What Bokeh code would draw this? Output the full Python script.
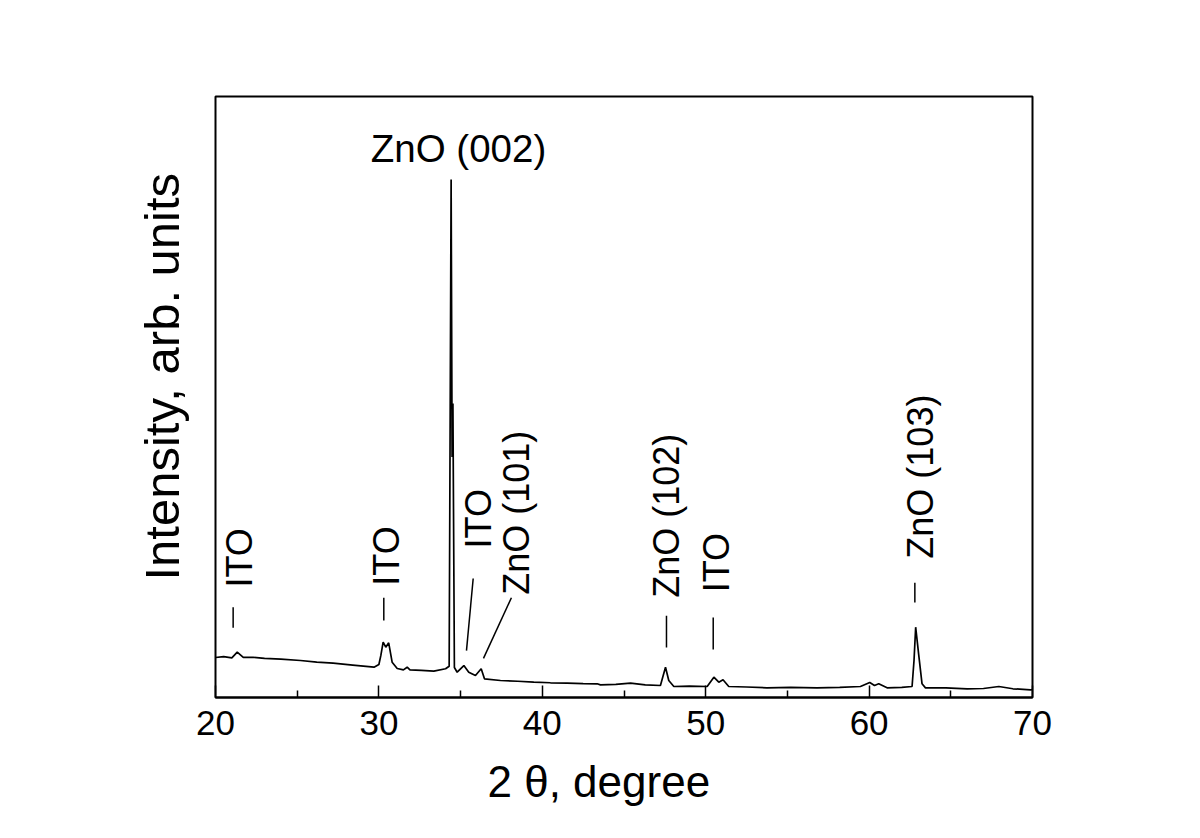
import math
from bokeh.plotting import figure
from bokeh.models import Range1d, FixedTicker, Title, ColumnDataSource
from bokeh.core.properties import value
from bokeh.embed import file_html
from bokeh.resources import INLINE

# XRD pattern (2 theta in degrees, intensity in arbitrary units 0..100)
two_theta = [20.0, 20.5, 21.0, 21.33, 21.7, 22.3, 23.0, 24.0, 25.2, 26.2, 27.2, 28.4,
             29.7, 30.0, 30.12, 30.26, 30.42, 30.6, 30.81, 31.12, 31.5, 31.73, 31.9,
             32.6, 33.36, 34.08, 34.3, 34.42, 34.48, 34.53, 34.62, 34.79, 35.2, 35.5,
             35.91, 36.26, 36.46, 37.44, 38.5, 39.48, 40.5, 41.52, 42.5, 43.36, 43.56,
             44.5, 45.4, 46.3, 47.23, 47.54, 47.74, 48.05, 49.0, 50.09, 50.5, 50.8,
             51.06, 51.41, 52.5, 53.75, 55.2, 56.81, 58.2, 59.47, 60.04, 60.33, 60.59,
             61.1, 62.0, 62.63, 62.75, 62.85, 63.03, 63.24, 63.45, 64.7, 66.0, 67.0,
             67.94, 68.8, 69.88, 70.0]
intensity = [6.66, 6.8, 6.6, 7.54, 6.66, 6.7, 6.5, 6.4, 6.16, 5.9, 5.71, 5.4,
             5.04, 5.5, 7.0, 9.2, 8.37, 9.1, 5.87, 4.83, 4.6, 5.04, 4.6,
             4.5, 4.38, 4.78, 5.2, 86.2, 40.0, 48.9, 5.0, 4.21, 5.32, 4.21,
             3.66, 4.78, 3.11, 2.83, 2.7, 2.55, 2.45, 2.38, 2.3, 2.28, 2.11,
             2.2, 2.38, 2.1, 2.0, 5.04, 2.83, 1.83, 1.9, 1.83, 3.38, 2.55,
             2.95, 1.83, 1.75, 1.61, 1.7, 1.61, 1.7, 1.83, 2.5, 2.0, 2.28,
             1.61, 1.7, 1.83, 6.2, 11.7, 7.27, 2.28, 1.61, 1.6, 1.45, 1.5,
             1.83, 1.45, 1.28, 1.3]

x_ticks = [20, 30, 40, 50, 60, 70]
x_minor_ticks = [25, 35, 45, 55, 65]

label_text = ["ITO", "ITO", "ITO", "ZnO (101)", "ZnO (102)", "ITO", "ZnO (103)"]
label_x = [21.44, 30.47, 36.1, 38.42, 47.6, 50.66, 63.14]
label_y = [18.3, 18.6, 24.8, 17.1, 16.6, 17.5, 23.1]
marker_x0 = [21.08, 30.3, 35.77, 38.11, 47.6, 50.46, 62.8]
marker_y0 = [15.0, 16.6, 19.8, 16.6, 13.6, 13.3, 19.1]
marker_x1 = [21.08, 30.3, 35.36, 36.40, 47.6, 50.46, 62.8]
marker_y1 = [11.6, 12.8, 7.8, 6.5, 8.3, 8.0, 15.8]

main_label = ["ZnO (002)"]
main_label_x = [34.87]
main_label_y = [91.35]

FONT = "Liberation Sans"

p = figure(width=1180, height=830, output_backend="svg", toolbar_location=None,
           x_range=Range1d(20, 70), y_range=Range1d(0, 100),
           min_border_left=215, min_border_right=148, min_border_top=96,
           min_border_bottom=133)
p.background_fill_color = "white"
p.border_fill_color = "white"
p.outline_line_color = "black"
p.outline_line_width = 2
p.xgrid.visible = False
p.ygrid.visible = False
p.yaxis.visible = False

ax = p.xaxis[0]
ax.ticker = FixedTicker(ticks=x_ticks, minor_ticks=x_minor_ticks)
ax.axis_line_color = "black"
ax.axis_line_width = 2
ax.major_tick_in = 12
ax.major_tick_out = 0
ax.minor_tick_in = 7
ax.minor_tick_out = 0
ax.major_tick_line_width = 1.5
ax.minor_tick_line_width = 1.5
ax.major_tick_line_color = "black"
ax.minor_tick_line_color = "black"
ax.major_label_text_font = FONT
ax.major_label_text_font_size = "35px"
ax.major_label_text_color = "black"
ax.major_label_standoff = 13

p.line(two_theta, intensity, line_color="black", line_width=1.7)

p.segment(x0=marker_x0, y0=marker_y0, x1=marker_x1, y1=marker_y1,
          line_color="black", line_width=1.5)

src = ColumnDataSource(dict(x=label_x, y=label_y, t=label_text))
p.text(x="x", y="y", text="t", source=src, angle=math.pi / 2,
       text_align="left", text_baseline="middle",
       text_font=value(FONT), text_font_size="36px", text_color="black")

p.text(x=main_label_x, y=main_label_y, text=main_label,
       text_align="center", text_baseline="alphabetic",
       text_font=value(FONT), text_font_size="38.5px", text_color="black")

xt = Title(text="2 θ, degree", align="left", offset=272,
           text_font=FONT, text_font_size="44px", text_font_style="normal",
           text_color="black", standoff=35)
p.add_layout(xt, "below")

yt = Title(text="Intensity, arb. units", align="left", offset=117,
           text_font=FONT, text_font_size="49px", text_font_style="normal",
           text_color="black", standoff=53)
p.add_layout(yt, "left")

open("out.html", "w").write(file_html(p, INLINE))
